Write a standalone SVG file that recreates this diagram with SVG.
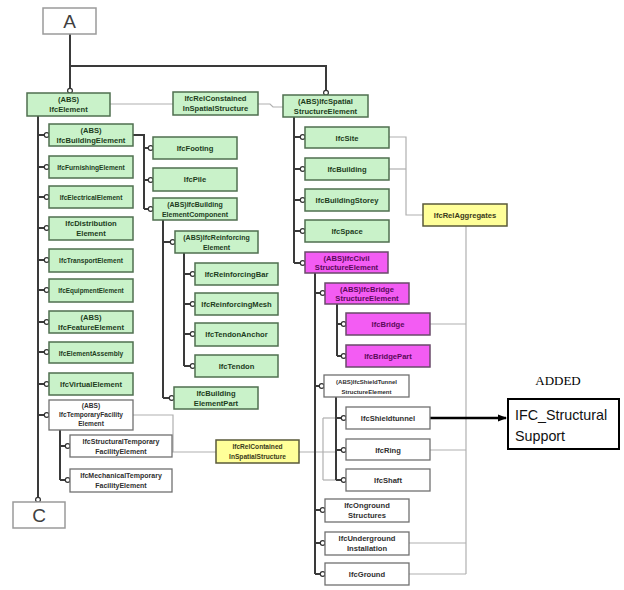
<svg xmlns="http://www.w3.org/2000/svg" width="624" height="590" viewBox="0 0 624 590">
<style>
.g rect{fill:#c9f2c9;stroke:#4f6f4f;stroke-width:1.5}
.g text{fill:#1d3d1d}
.m rect{fill:#f35cf3;stroke:#6a4a6a;stroke-width:1.5}
.m text{fill:#5a0a5a}
.w rect{fill:#fff;stroke:#707070;stroke-width:1.3}
.w text{fill:#303030}
.y rect{fill:#ffff99;stroke:#5a5a3a;stroke-width:1.5}
.y text{fill:#3a3a1a}
text{font-family:"Liberation Sans",Arial,sans-serif;font-size:7.6px;font-weight:bold;text-anchor:middle}
.big rect{fill:#fff;stroke:#9a9a9a;stroke-width:1.5}
.big text{font-size:19px;fill:#404040;font-weight:normal}
.dk path{fill:none;stroke:#3a3a3a;stroke-width:2}
.lt path{fill:none;stroke:#b0b0b0;stroke-width:1.2}
</style>
<defs>
<marker id="o" markerWidth="8" markerHeight="8" refX="6.3" refY="4" orient="auto" markerUnits="userSpaceOnUse">
<circle cx="4" cy="4" r="2.4" fill="#fff" stroke="#333" stroke-width="1.2"/>
</marker>
<marker id="ar" markerWidth="10" markerHeight="10" refX="8" refY="5" orient="auto" markerUnits="userSpaceOnUse">
<path d="M0,1.5 L9,5 L0,8.5 Z" fill="#000"/>
</marker>
</defs>

<g id="connectors">
<g class="lt">
<path d="M110 104 H173"/>
<path d="M258 104 H270 L273 107 H283"/>
<path d="M389 137 H406 V215 H423"/>
<path d="M389 169 H406"/>
<path d="M466 226 V574"/>
<path d="M430 324 H466"/>
<path d="M430 450 H466"/>
<path d="M409 543 H466"/>
<path d="M409 574 H466"/>
<path d="M133 415 H173 V452"/>
<path d="M172 452 H216"/>
<path d="M299 452 H336"/>
<path d="M323 418 V480"/>
<path d="M323 418 H336"/>
<path d="M323 480 H336"/>
</g>
<g class="dk">
<path d="M70 34 V93" marker-end="url(#o)"/>
<path d="M70 66 H326 V95" marker-end="url(#o)"/>
<path d="M38 116 V502" marker-end="url(#o)"/>
<path d="M38 135 H49" marker-end="url(#o)"/>
<path d="M38 167 H49" marker-end="url(#o)"/>
<path d="M38 197 H49" marker-end="url(#o)"/>
<path d="M38 228 H49" marker-end="url(#o)"/>
<path d="M38 260 H49" marker-end="url(#o)"/>
<path d="M38 290 H49" marker-end="url(#o)"/>
<path d="M38 322 H49" marker-end="url(#o)"/>
<path d="M38 352 H49" marker-end="url(#o)"/>
<path d="M38 384 H49" marker-end="url(#o)"/>
<path d="M38 415 H49" marker-end="url(#o)"/>
<path d="M133 135 H144 V209"/>
<path d="M144 148 H153" marker-end="url(#o)"/>
<path d="M144 180 H153" marker-end="url(#o)"/>
<path d="M144 209 H153" marker-end="url(#o)"/>
<path d="M163 220 V398"/>
<path d="M163 242 H175" marker-end="url(#o)"/>
<path d="M163 398 H174" marker-end="url(#o)"/>
<path d="M184 253 V366"/>
<path d="M184 274 H195" marker-end="url(#o)"/>
<path d="M184 304 H195" marker-end="url(#o)"/>
<path d="M184 334 H195" marker-end="url(#o)"/>
<path d="M184 366 H195" marker-end="url(#o)"/>
<path d="M60 430 V480"/>
<path d="M60 446 H70" marker-end="url(#o)"/>
<path d="M60 480 H70" marker-end="url(#o)"/>
<path d="M294 117 V263"/>
<path d="M294 137 H305" marker-end="url(#o)"/>
<path d="M294 169 H305" marker-end="url(#o)"/>
<path d="M294 200 H305" marker-end="url(#o)"/>
<path d="M294 231 H305" marker-end="url(#o)"/>
<path d="M294 263 H305" marker-end="url(#o)"/>
<path d="M315 273 V574"/>
<path d="M315 293 H325" marker-end="url(#o)"/>
<path d="M315 386 H324" marker-end="url(#o)"/>
<path d="M315 510 H325" marker-end="url(#o)"/>
<path d="M315 543 H325" marker-end="url(#o)"/>
<path d="M315 574 H325" marker-end="url(#o)"/>
<path d="M337 304 V356"/>
<path d="M337 324 H346" marker-end="url(#o)"/>
<path d="M337 356 H346" marker-end="url(#o)"/>
<path d="M336 397 V480"/>
<path d="M336 418 H346" marker-end="url(#o)"/>
<path d="M336 450 H346" marker-end="url(#o)"/>
<path d="M336 480 H346" marker-end="url(#o)"/>
</g>
<path d="M430 418 H506" fill="none" stroke="#000" stroke-width="2.6" marker-end="url(#ar)"/>
</g>

<g id="A" class="big"><rect x="43" y="8" width="53" height="26"/><text x="69.5" y="28">A</text></g>
<g id="C" class="big"><rect x="13" y="502" width="52" height="26"/><text x="39" y="522">C</text></g>

<g id="IfcElement" class="g"><rect x="27" y="93" width="83" height="23"/><text x="68.5" y="102">(ABS)</text><text x="68.5" y="112">IfcElement</text></g>
<g id="IfcRelContained1" class="g"><rect x="173" y="92" width="85" height="23"/><text x="215.5" y="101">IfcRelConstained</text><text x="215.5" y="111">InSpatialStructure</text></g>
<g id="IfcSpatialStructureElement" class="g"><rect x="283" y="95" width="85" height="22"/><text x="325.5" y="104">(ABS)IfcSpatial</text><text x="325.5" y="114">StructureElement</text></g>

<g id="IfcSite" class="g"><rect x="305" y="127" width="84" height="21"/><text x="347" y="140.5">IfcSite</text></g>
<g id="IfcBuilding" class="g"><rect x="305" y="158" width="84" height="22"/><text x="347" y="172">IfcBuilding</text></g>
<g id="IfcBuildingStorey" class="g"><rect x="305" y="189" width="84" height="22"/><text x="347" y="203">IfcBuildingStorey</text></g>
<g id="IfcSpace" class="g"><rect x="305" y="220" width="84" height="22"/><text x="347" y="234">IfcSpace</text></g>
<g id="IfcRelAggregates" class="y"><rect x="423" y="204" width="84" height="22"/><text x="465" y="218">IfcRelAggregates</text></g>

<g id="IfcCivilStructureElement" class="m"><rect x="305" y="252" width="83" height="21"/><text x="346.5" y="260.5">(ABS)IfcCivil</text><text x="346.5" y="270">StructureElement</text></g>
<g id="IfcBridgeStructureElement" class="m"><rect x="325" y="283" width="84" height="21"/><text x="367" y="291.5">(ABS)IfcBridge</text><text x="367" y="301">StructureElement</text></g>
<g id="IfcBridge" class="m"><rect x="346" y="313" width="84" height="22"/><text x="388" y="327">IfcBridge</text></g>
<g id="IfcBridgePart" class="m"><rect x="346" y="345" width="84" height="22"/><text x="388" y="359">IfcBridgePart</text></g>
<g id="IfcShieldTunnelStructureElement" class="w"><rect x="324" y="375" width="85" height="22"/><text x="366.5" y="384" style="font-size:6px">(ABS)IfcShieldTunnel</text><text x="366.5" y="393.5" style="font-size:6px">StructureElement</text></g>
<g id="IfcShieldtunnel" class="w"><rect x="346" y="407" width="84" height="22"/><text x="388" y="421">IfcShieldtunnel</text></g>
<g id="IfcRing" class="w"><rect x="346" y="439" width="84" height="21"/><text x="388" y="452.5">IfcRing</text></g>
<g id="IfcShaft" class="w"><rect x="346" y="469" width="84" height="22"/><text x="388" y="483">IfcShaft</text></g>
<g id="IfcOngroundStructures" class="w"><rect x="325" y="499" width="84" height="23"/><text x="367" y="508">IfcOnground</text><text x="367" y="518">Structures</text></g>
<g id="IfcUndergroundInstallation" class="w"><rect x="325" y="532" width="84" height="23"/><text x="367" y="541">IfcUnderground</text><text x="367" y="551">Installation</text></g>
<g id="IfcGround" class="w"><rect x="325" y="563" width="84" height="22"/><text x="367" y="577">IfcGround</text></g>

<g id="IfcBuildingElement" class="g"><rect x="49" y="124" width="84" height="22"/><text x="91" y="133">(ABS)</text><text x="91" y="143">IfcBuildingElement</text></g>
<g id="IfcFurnishingElement" class="g"><rect x="49" y="156" width="84" height="22"/><text x="91" y="170" style="font-size:6.6px">IfcFurnishingElement</text></g>
<g id="IfcElectricalElement" class="g"><rect x="49" y="186" width="84" height="22"/><text x="91" y="200" style="font-size:6.6px">IfcElectricalElement</text></g>
<g id="IfcDistributionElement" class="g"><rect x="49" y="217" width="84" height="23"/><text x="91" y="226">IfcDistribution</text><text x="91" y="236">Element</text></g>
<g id="IfcTransportElement" class="g"><rect x="49" y="249" width="84" height="23"/><text x="91" y="263" style="font-size:6.6px">IfcTransportElement</text></g>
<g id="IfcEquipmentElement" class="g"><rect x="49" y="279" width="84" height="23"/><text x="91" y="293" style="font-size:6.4px">IfcEquipmentElement</text></g>
<g id="IfcFeatureElement" class="g"><rect x="49" y="311" width="84" height="22"/><text x="91" y="320">(ABS)</text><text x="91" y="330">IfcFeatureElement</text></g>
<g id="IfcElementAssembly" class="g"><rect x="49" y="342" width="84" height="21"/><text x="91" y="355.5" style="font-size:6.6px">IfcElementAssembly</text></g>
<g id="IfcVirtualElement" class="g"><rect x="49" y="373" width="84" height="22"/><text x="91" y="387">IfcVirtualElement</text></g>
<g id="IfcTemporaryFacilityElement" class="w"><rect x="49" y="400" width="84" height="30"/><text x="91" y="408" style="font-size:6.6px">(ABS)</text><text x="91" y="417" style="font-size:6.6px">IfcTemporaryFacility</text><text x="91" y="426" style="font-size:6.6px">Element</text></g>
<g id="IfcStructuralTemporaryFacilityElement" class="w"><rect x="70" y="435" width="102" height="22"/><text x="121" y="444" style="font-size:7px">IfcStructuralTemporary</text><text x="121" y="454" style="font-size:7px">FacilityElement</text></g>
<g id="IfcMechanicalTemporaryFacilityElement" class="w"><rect x="70" y="469" width="102" height="23"/><text x="121" y="478" style="font-size:7px">IfcMechanicalTemporary</text><text x="121" y="488" style="font-size:7px">FacilityElement</text></g>
<g id="IfcRelContained2" class="y"><rect x="216" y="440" width="83" height="23"/><text x="257.5" y="449" style="font-size:6.6px">IfcRelContained</text><text x="257.5" y="459" style="font-size:6.6px">InSpatialStructure</text></g>

<g id="IfcFooting" class="g"><rect x="153" y="137" width="84" height="22"/><text x="195" y="151">IfcFooting</text></g>
<g id="IfcPile" class="g"><rect x="153" y="168" width="84" height="23"/><text x="195" y="182">IfcPile</text></g>
<g id="IfcBuildingElementComponent" class="g"><rect x="153" y="198" width="84" height="22"/><text x="195" y="207" style="font-size:7px">(ABS)IfcBuilding</text><text x="195" y="217" style="font-size:7px">ElementComponent</text></g>
<g id="IfcReinforcingElement" class="g"><rect x="175" y="231" width="83" height="22"/><text x="216.5" y="240" style="font-size:7px">(ABS)IfcReinforcing</text><text x="216.5" y="250" style="font-size:7px">Element</text></g>
<g id="IfcReinforcingBar" class="g"><rect x="195" y="263" width="83" height="22"/><text x="236.5" y="277">IfcReinforcingBar</text></g>
<g id="IfcReinforcingMesh" class="g"><rect x="195" y="293" width="83" height="22"/><text x="236.5" y="307">IfcReinforcingMesh</text></g>
<g id="IfcTendonAnchor" class="g"><rect x="195" y="323" width="83" height="23"/><text x="236.5" y="337">IfcTendonAnchor</text></g>
<g id="IfcTendon" class="g"><rect x="195" y="355" width="83" height="22"/><text x="236.5" y="369">IfcTendon</text></g>
<g id="IfcBuildingElementPart" class="g"><rect x="174" y="387" width="84" height="22"/><text x="216" y="396">IfcBuilding</text><text x="216" y="406">ElementPart</text></g>

<g id="IFC_StructuralSupport">
<text x="558" y="385" style="font-family:'Liberation Serif','Times New Roman',serif;font-size:13px;font-weight:normal;fill:#000">ADDED</text>
<rect x="508" y="399" width="111" height="50" fill="#fff" stroke="#000" stroke-width="2"/>
<text x="515" y="420" style="font-size:14.3px;font-weight:normal;text-anchor:start;fill:#111">IFC_Structural</text>
<text x="515" y="441" style="font-size:14.3px;font-weight:normal;text-anchor:start;fill:#111">Support</text>
</g>
</svg>
